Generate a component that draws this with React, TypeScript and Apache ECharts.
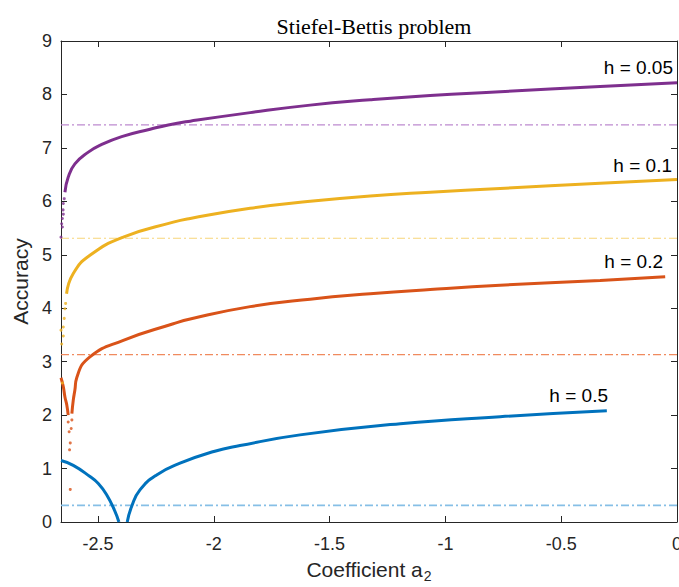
import React, { useEffect, useRef } from "react";
import * as echarts from "echarts";

const X_MIN = -2.66;
const X_MAX = 0;
const xTicks = [-2.5, -2, -1.5, -1, -0.5, 0];

const labels = ["h = 0.05", "h = 0.1", "h = 0.2", "h = 0.5"];
const colors = ["#7E2F8E", "#EDB120", "#D95319", "#0072BD"];
const dashColors = ["#BD8ACF", "#F7D57A", "#F08A5E", "#86BFE6"];
const dashLevels = [7.43, 5.31, 3.13, 0.31];

// h = 0.05
const purpleLine = [
  [-2.643, 6.17], [-2.629, 6.45], [-2.6, 6.7], [-2.542, 6.92], [-2.49, 7.05],
  [-2.398, 7.21], [-2.275, 7.35], [-2.197, 7.43], [-2.102, 7.5], [-1.843, 7.66],
  [-1.584, 7.8], [-1.325, 7.9], [-1.066, 7.98], [-0.764, 8.05], [-0.332, 8.15], [0, 8.22],
];
const purpleDots = [
  [-2.646, 6.05], [-2.65, 5.96], [-2.651, 5.84], [-2.65, 5.76], [-2.654, 5.68],
  [-2.657, 5.58], [-2.654, 5.52], [-2.66, 5.33],
];

// h = 0.1
const yellowLine = [
  [-2.636, 4.27], [-2.607, 4.65], [-2.535, 4.99], [-2.391, 5.33], [-2.175, 5.61],
  [-2.102, 5.68], [-1.843, 5.87], [-1.584, 6.0], [-1.325, 6.1], [-1.066, 6.17],
  [-0.764, 6.24], [-0.332, 6.34], [0, 6.41],
];
const yellowDots = [
  [-2.64, 4.09], [-2.643, 3.99], [-2.646, 3.81], [-2.65, 3.65], [-2.66, 3.59],
  [-2.65, 3.48], [-2.657, 3.33], [-2.654, 2.6],
];

// h = 0.2
const orangeLeft = [
  [-2.66, 2.7], [-2.65, 2.53], [-2.643, 2.34], [-2.635, 2.19], [-2.629, 2.0],
];
const orangeDots = [
  [-2.629, 1.87], [-2.625, 1.69], [-2.613, 1.91], [-2.616, 1.75], [-2.62, 1.48],
  [-2.623, 1.35], [-2.62, 0.61],
];
const orangeRight = [
  [-2.613, 2.03], [-2.607, 2.28], [-2.6, 2.47], [-2.592, 2.7], [-2.535, 3.09],
  [-2.391, 3.4], [-2.175, 3.71], [-2.102, 3.8], [-1.843, 4.03],
  [-1.584, 4.17], [-1.325, 4.27], [-1.066, 4.35], [-0.764, 4.43], [-0.332, 4.52], [-0.051, 4.59],
];

// h = 0.5
const blueLeft = [
  [-2.66, 1.15], [-2.607, 1.06], [-2.535, 0.85], [-2.499, 0.72], [-2.463, 0.51],
  [-2.427, 0.2], [-2.41, 0],
];
const blueRight = [
  [-2.374, 0], [-2.355, 0.29], [-2.319, 0.6], [-2.247, 0.88], [-2.146, 1.1],
  [-2.0, 1.32], [-1.887, 1.43], [-1.628, 1.63], [-1.195, 1.84], [-0.764, 1.97], [-0.303, 2.08],
];

const FONT = "Liberation Sans, Arial, sans-serif";
const AXIS_COLOR = "#262626";

function lineSeries(data: number[][], color: string, z = 3) {
  return {
    type: "line",
    data,
    smooth: 0.5,
    symbol: "none",
    z,
    lineStyle: { color, width: 3 },
  };
}
function dotSeries(data: number[][], color: string) {
  return {
    type: "scatter",
    data,
    symbol: "circle",
    symbolSize: 3,
    z: 4,
    itemStyle: { color },
  };
}
function dashSeries(level: number, color: string, width: number) {
  return {
    type: "line",
    data: [[X_MIN, level], [X_MAX, level]],
    symbol: "none",
    z: 2,
    lineStyle: { color, width, type: [8, 3, 2, 3] },
  };
}

export default function App() {
  const ref = useRef<HTMLDivElement>(null);
  useEffect(() => {
    if (!ref.current) return;
    const chart = echarts.init(ref.current, null, { renderer: "svg" });
    const axisCommon = {
      type: "value",
      axisLine: { show: true, onZero: false, lineStyle: { color: AXIS_COLOR, width: 1 } },
      axisTick: { show: true, inside: true, length: 6, lineStyle: { color: AXIS_COLOR, width: 1 } },
      splitLine: { show: false },
    };
    const labelStyle = { color: AXIS_COLOR, fontSize: 18, fontFamily: FONT };
    const textStyle = { fontSize: 19, fontFamily: FONT, fill: "#000" };
    chart.setOption({
      animation: false,
      title: {
        text: "Stiefel-Bettis problem",
        left: 369,
        textAlign: "center",
        top: 10,
        textStyle: { fontFamily: "Liberation Serif, serif", fontWeight: "normal", fontSize: 22, color: "#000" },
      },
      grid: { left: 61, right: 2, top: 41, bottom: 65, containLabel: false, outerBoundsMode: "none" },
      xAxis: [
        {
          ...axisCommon,
          position: "bottom",
          min: X_MIN,
          max: X_MAX,
          axisTick: { ...axisCommon.axisTick, customValues: xTicks },
          axisLabel: { ...labelStyle, margin: 13, customValues: xTicks },
          name: "{n|Coefficient a}{s|2}",
          nameLocation: "middle",
          nameGap: 33,
          nameTextStyle: {
            rich: {
              n: { fontSize: 21, fontFamily: FONT, color: AXIS_COLOR },
              s: { fontSize: 14, fontFamily: FONT, color: AXIS_COLOR, padding: [14, 0, 0, 1] },
            },
          },
        },
        {
          ...axisCommon,
          position: "top",
          min: X_MIN,
          max: X_MAX,
          axisTick: { ...axisCommon.axisTick, customValues: xTicks },
          axisLabel: { show: false },
        },
      ],
      yAxis: [
        {
          ...axisCommon,
          position: "left",
          min: 0,
          max: 9,
          interval: 1,
          axisLabel: { ...labelStyle, margin: 9 },
          name: "Accuracy",
          nameLocation: "middle",
          nameGap: 23,
          nameTextStyle: { fontSize: 21, fontFamily: FONT, color: AXIS_COLOR },
        },
        {
          ...axisCommon,
          position: "right",
          min: 0,
          max: 9,
          interval: 1,
          axisLabel: { show: false },
        },
      ],
      series: [
        dashSeries(dashLevels[0], dashColors[0], 1.1),
        dashSeries(dashLevels[1], dashColors[1], 1.1),
        dashSeries(dashLevels[2], dashColors[2], 1.3),
        dashSeries(dashLevels[3], dashColors[3], 1.8),
        lineSeries(blueLeft, colors[3]),
        lineSeries(blueRight, colors[3]),
        lineSeries(orangeLeft, colors[2]),
        lineSeries(orangeRight, colors[2]),
        dotSeries(orangeDots, colors[2]),
        lineSeries(yellowLine, colors[1]),
        dotSeries(yellowDots, colors[1]),
        lineSeries(purpleLine, colors[0]),
        dotSeries(purpleDots, colors[0]),
      ],
      graphic: [
        { type: "text", right: 6, top: 58, style: { text: labels[0], ...textStyle } },
        { type: "text", right: 7, top: 156, style: { text: labels[1], ...textStyle } },
        { type: "text", right: 16, top: 252, style: { text: labels[2], ...textStyle } },
        { type: "text", right: 71, top: 386, style: { text: labels[3], ...textStyle } },
      ],
    });
    return () => chart.dispose();
  }, []);
  return (
    <div
      ref={ref}
      style={{ position: "absolute", left: 0, top: 0, width: 679, height: 587, background: "#fff" }}
    />
  );
}
